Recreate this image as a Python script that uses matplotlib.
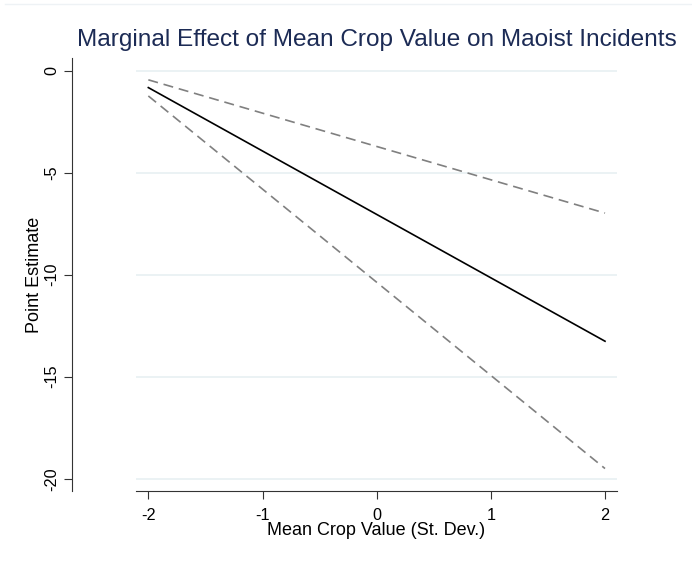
import numpy as np
import matplotlib.pyplot as plt
from matplotlib.lines import Line2D

plt.rcParams['font.family'] = ['Liberation Sans', 'DejaVu Sans']

# marginal effect and 95% bounds at the ends of the crop-value range
crop_sd = [-2, 2]
point_est = [-0.83, -13.26]
upper_ci = [-0.45, -6.98]
lower_ci = [-1.24, -19.50]

x_ticks = [-2, -1, 0, 1, 2]
y_ticks = [0, -5, -10, -15, -20]

fig = plt.figure(figsize=(6.92, 5.67), dpi=100)
ax = fig.add_axes([136/692, 76/567, 481/692, 433/567])

ax.plot(crop_sd, upper_ci, color='#808080', lw=1.2, dashes=(6, 3.5))
ax.plot(crop_sd, lower_ci, color='#808080', lw=1.2, dashes=(6, 3.5))
ax.plot(crop_sd, point_est, color='black', lw=1.2)

ax.set_xlim(-2.108, 2.105)
ax.set_ylim(-20.6, 0.62)
ax.set_xticks(x_ticks)
ax.set_xticklabels([str(v) for v in x_ticks])
ax.set_yticks(y_ticks)
ax.set_yticklabels([str(v) for v in y_ticks])

ax.grid(axis='y', color='#e8f0f2', lw=1.2)
ax.set_axisbelow(True)

for side in ['top', 'right']:
    ax.spines[side].set_visible(False)
ax.spines['left'].set_position(('outward', 46))
ax.spines['left'].set_color('#333333')
ax.spines['bottom'].set_color('#333333')
ax.tick_params(axis='both', length=5.5, width=0.8, color='#333333',
               labelsize=11.7, pad=7)
ax.tick_params(axis='y', labelrotation=90, pad=4)
for lab in ax.get_yticklabels():
    lab.set_va('center')

ax.set_xlabel('Mean Crop Value (St. Dev.)', fontsize=13, va='center')
ax.xaxis.set_label_coords(0.5, -0.092)
ax.set_ylabel('Point Estimate', fontsize=13, va='center')
ax.yaxis.set_label_coords(-0.212, 0.5)

ax.set_title('Marginal Effect of Mean Crop Value on Maoist Incidents',
             fontsize=17.6, color='#1c2b55', pad=8.9)

# thin frame line along the top of the graph region
fig.add_artist(Line2D([5/692, 1], [1 - 4/567, 1 - 4/567],
                      color='#eef2f5', lw=1))

fig.savefig('out.png', dpi=100)
